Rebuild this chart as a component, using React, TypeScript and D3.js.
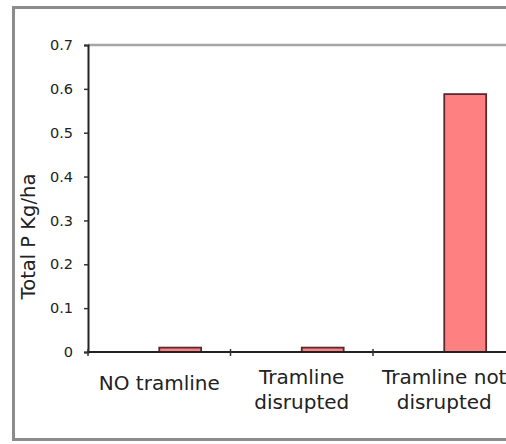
import React, { useEffect, useRef } from 'react';
import * as d3 from 'd3';

const categories = ['NO tramline', 'Tramline disrupted', 'Tramline not disrupted'];
const categoryLines = [['NO tramline'], ['Tramline', 'disrupted'], ['Tramline not', 'disrupted']];
const seriesNames = ['Series 1', 'Series 2'];
// first series has no values in the picture, only its slot is left empty
const series1: (number | null)[] = [null, null, null];
const series2: (number | null)[] = [0.01, 0.01, 0.588];
const yTicks = [0, 0.1, 0.2, 0.3, 0.4, 0.5, 0.6, 0.7];

const App: React.FC = () => {
  const svgRef = useRef<SVGSVGElement>(null);
  const width = 506;
  const height = 444;

  useEffect(() => {
    if (!svgRef.current) return;
    const svg = d3.select(svgRef.current);
    svg.selectAll('*').remove();

    const font = '"DejaVu Sans", Verdana, sans-serif';
    const left = 88;
    const top = 45;
    const bottom = 352;
    const step = 142.5;

    // outer chart frame (right side runs off the picture)
    svg.append('rect')
      .attr('x', 13.5)
      .attr('y', 7.5)
      .attr('width', 700)
      .attr('height', 432)
      .attr('fill', '#fff')
      .attr('stroke', '#8c8c8c')
      .attr('stroke-width', 3);

    const xScale = d3.scaleBand<string>()
      .domain(categories)
      .range([left, left + step * categories.length])
      .paddingInner(0)
      .paddingOuter(0);

    const xInner = d3.scaleBand<string>()
      .domain(seriesNames)
      .range([0, xScale.bandwidth()])
      .paddingInner(0)
      .paddingOuter(0.7);

    const yScale = d3.scaleLinear()
      .domain([0, 0.7])
      .range([bottom, top]);

    // plot area top border
    svg.append('line')
      .attr('x1', left)
      .attr('x2', width + 20)
      .attr('y1', yScale(0.7))
      .attr('y2', yScale(0.7))
      .attr('stroke', '#a6a6a6')
      .attr('stroke-width', 2.5);

    // bars
    const rows = categories.map((c, i) => ({ c, values: [series1[i], series2[i]] }));
    const groups = svg.append('g')
      .selectAll('g')
      .data(rows)
      .join('g')
      .attr('transform', d => `translate(${xScale(d.c)},0)`);

    groups.selectAll('rect')
      .data(d => d.values.map((v, j) => ({ s: seriesNames[j], v })).filter(e => e.v !== null))
      .join('rect')
      .attr('x', d => xInner(d.s)!)
      .attr('width', xInner.bandwidth())
      .attr('y', d => yScale(d.v as number))
      .attr('height', d => yScale(0) - yScale(d.v as number))
      .attr('fill', '#ff8080')
      .attr('stroke', '#5a2a30')
      .attr('stroke-width', 1.8);

    // y axis
    const yAxis = svg.append('g')
      .attr('transform', `translate(${left},0)`)
      .call(d3.axisLeft(yScale)
        .tickValues(yTicks)
        .tickSize(4)
        .tickPadding(11)
        .tickFormat(d => (d === 0 ? '0' : d3.format('.1f')(d as number))));
    yAxis.select('.domain').attr('stroke', '#222').attr('stroke-width', 2);
    yAxis.selectAll('.tick line').attr('stroke', '#333').attr('stroke-width', 1.5);
    yAxis.selectAll('.tick text')
      .attr('font-family', font)
      .attr('font-size', 14.5)
      .attr('fill', '#222');

    // x axis line and category ticks
    svg.append('line')
      .attr('x1', left)
      .attr('x2', width + 20)
      .attr('y1', yScale(0))
      .attr('y2', yScale(0))
      .attr('stroke', '#222')
      .attr('stroke-width', 2);

    svg.append('g')
      .selectAll('line')
      .data(categories)
      .join('line')
      .attr('x1', d => xScale(d)!)
      .attr('x2', d => xScale(d)!)
      .attr('y1', yScale(0) - 3)
      .attr('y2', yScale(0) + 4)
      .attr('stroke', '#333')
      .attr('stroke-width', 1.5);

    // category labels
    const labels = svg.append('g')
      .selectAll('text')
      .data(categories)
      .join('text')
      .attr('text-anchor', 'middle')
      .attr('font-family', font)
      .attr('font-size', 20)
      .attr('fill', '#222')
      .attr('x', d => xScale(d)! + xScale.bandwidth() / 2)
      .attr('y', (d, i) => (categoryLines[i].length === 1 ? 390 : 384));

    labels.selectAll('tspan')
      .data((d, i) => categoryLines[i])
      .join('tspan')
      .attr('x', function () {
        return (this.parentNode as SVGTextElement).getAttribute('x');
      })
      .attr('dy', (d, j) => (j === 0 ? 0 : 24.5))
      .text(d => d);

    // y axis title
    svg.append('text')
      .attr('transform', `translate(35,${(yScale(0.7) + yScale(0)) / 2 + 38}) rotate(-90)`)
      .attr('text-anchor', 'middle')
      .attr('font-family', font)
      .attr('font-size', 19.5)
      .attr('fill', '#222')
      .text('Total P Kg/ha');
  }, []);

  return (
    <div style={{ position: 'absolute', left: 0, top: 0 }}>
      <svg ref={svgRef} width={width} height={height} style={{ display: 'block', background: '#fff' }} />
    </div>
  );
};

export default App;
